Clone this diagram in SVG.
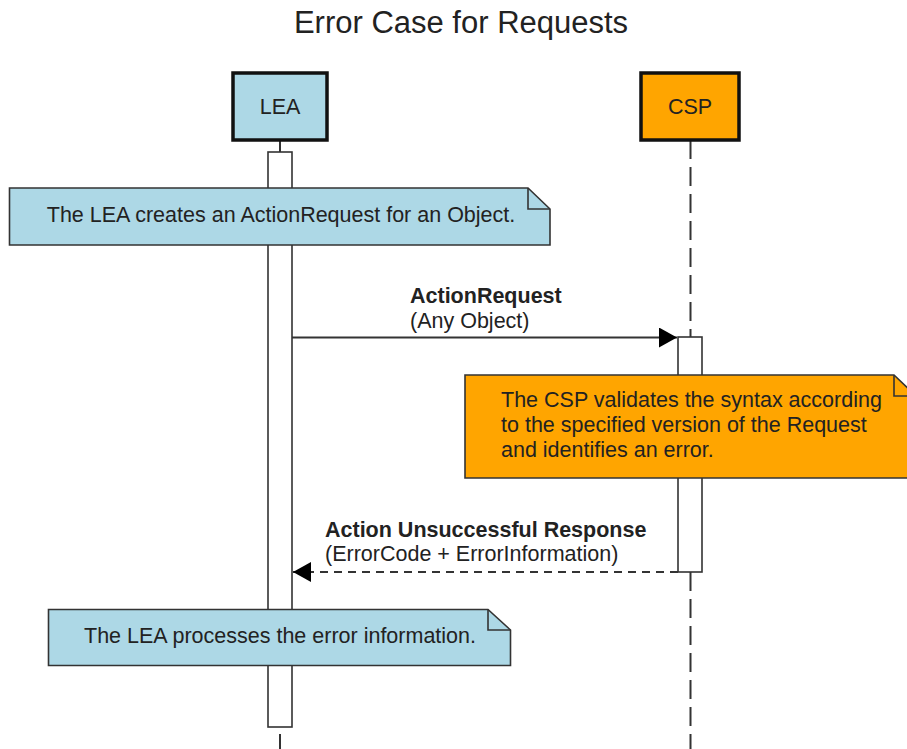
<svg xmlns="http://www.w3.org/2000/svg" width="907" height="749" viewBox="0 0 907 749">
  <style>
    text { font-family: "Liberation Sans", Arial, sans-serif; fill: #222; }
    .title { font-size: 31px; }
    .lbl { font-size: 21.5px; }
    .bold { font-weight: bold; }
    .actor { stroke: #111; stroke-width: 3.5; }
    .lea { fill: #ADD8E6; }
    .csp { fill: #FFA500; }
    .life { stroke: #333; stroke-width: 2; stroke-dasharray: 19 8; fill: none; }
    .bar { fill: #fff; stroke: #333; stroke-width: 1.6; }
    .note { stroke: #333; stroke-width: 1.6; }
    .fold { fill: none; stroke: #333; stroke-width: 1.6; }
    .msg { stroke: #333; stroke-width: 2; fill: none; }
    .dash { stroke-dasharray: 8 6; }
  </style>
  <defs>
    <marker id="arrow" viewBox="0 0 18 20" refX="18" refY="10" markerWidth="18" markerHeight="20" markerUnits="userSpaceOnUse" orient="auto">
      <path d="M0,0 L18,10 L0,20 Z" fill="#000"/>
    </marker>
  </defs>

  <text class="title" x="461" y="33" text-anchor="middle">Error Case for Requests</text>

  <g id="lifelines">
    <line class="life" x1="280" y1="140" x2="280" y2="749"/>
    <line class="life" x1="690.5" y1="140" x2="690.5" y2="749"/>
  </g>

  <g id="LEA">
    <rect class="actor lea" x="233" y="73" width="94" height="67"/>
    <text class="lbl" x="280" y="114" text-anchor="middle">LEA</text>
  </g>

  <g id="CSP">
    <rect class="actor csp" x="641" y="73" width="98" height="67"/>
    <text class="lbl" x="690" y="114" text-anchor="middle">CSP</text>
  </g>

  <g id="LEA-activation">
    <rect class="bar" x="268" y="152" width="24" height="575"/>
  </g>

  <g id="CSP-activation">
    <rect class="bar" x="678" y="337" width="24" height="235"/>
  </g>

  <g id="note-create">
    <path class="note lea" d="M9.5,188 H528 L550,209 V245 H9.5 Z"/>
    <path class="fold" d="M528,188 V209 H550"/>
    <text class="lbl" x="281" y="222" text-anchor="middle">The LEA creates an ActionRequest for an Object.</text>
  </g>

  <g id="note-validate">
    <path class="note csp" d="M465,375 H894 L916,396 V478 H465 Z"/>
    <path class="fold" d="M894,375 V396 H916"/>
    <text class="lbl" x="501" y="407">The CSP validates the syntax according</text>
    <text class="lbl" x="501" y="432">to the specified version of the Request</text>
    <text class="lbl" x="501" y="457">and identifies an error.</text>
  </g>

  <g id="note-process">
    <path class="note lea" d="M48.5,609.5 H488 L510.5,630 V665.5 H48.5 Z"/>
    <path class="fold" d="M488,609.5 V630 H510.5"/>
    <text class="lbl" x="280" y="643" text-anchor="middle">The LEA processes the error information.</text>
  </g>

  <g id="connectors">
    <g id="msg-request">
      <line class="msg" x1="292" y1="337.5" x2="677" y2="337.5" marker-end="url(#arrow)"/>
      <text class="lbl bold" x="410" y="303">ActionRequest</text>
      <text class="lbl" x="410" y="328">(Any Object)</text>
    </g>
    <g id="msg-response">
      <line class="msg dash" x1="678" y1="572" x2="293" y2="572" marker-end="url(#arrow)"/>
      <text class="lbl bold" x="325" y="537">Action Unsuccessful Response</text>
      <text class="lbl" x="325" y="561">(ErrorCode + ErrorInformation)</text>
    </g>
  </g>
</svg>
